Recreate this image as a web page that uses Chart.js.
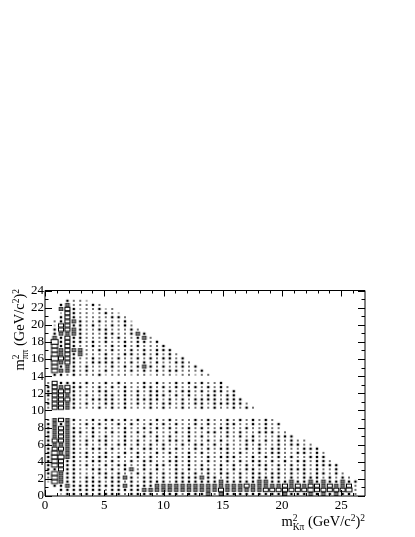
<!DOCTYPE html>
<html>
<head>
<meta charset="utf-8">
<style>
html, body { margin: 0; padding: 0; background: #fff; }
canvas { display: block; }
</style>
<script src="https://cdn.jsdelivr.net/npm/chart.js@4"></script>
</head>
<body>
<canvas id="dalitz" width="415" height="537"></canvas>
<script>
// axis ticks
const xMajor = [0, 5, 10, 15, 20, 25];
const xMinor = [1,2,3,4,6,7,8,9,11,12,13,14,16,17,18,19,21,22,23,24,26];
const yMajor = [0, 2, 4, 6, 8, 10, 12, 14, 16, 18, 20, 22, 24];
const yMinor = [1,3,5,7,9,11,13,15,17,19,21,23];

// histogram binning, 50 x 50
const xBinWidth = 0.54;
const yBinWidth = 0.48;

// box size, one string per y bin starting from the bottom row
// each digit is one x bin, 0 = empty
const boxRows = [
  "0013323233332333323332333424333333333433343434332",
  "0033333332333334444444444445444444555555565555562",
  "0334333333334333344444444444444544444545455454452",
  "1643323332332323333233333334333334433343343433433",
  "264332332333432332323333433232323333323233323232",
  "36433222332322323232332323233232332332323233232",
  "3353322332323423232232323323232332323233323223",
  "3653323223233223233232323223232323323232323333",
  "365332233232232332233232232232323323232332332",
  "36643232332322323222323223233322323232322333",
  "36443232232232322323223232223232232332233232",
  "3554322332322323323232232323322323233222333",
  "344432322323323232322323323232232322323322",
  "35543232332232322323323223232223323232322",
  "345432232322322323232232322232323222333",
  "34543323223232323222323223323232233322",
  "3454322323223223232322323223322322322",
  "3434223232232322323232232322332232323",
  "245432232332323223232223232232323232",
  "",
  "",
  "255432223232322232322322323223232",
  "35543232233232323233232332333332",
  "2555322333323233332323233332333",
  "355432322332323233323232233233",
  "355532223322323233232332323323",
  "35453322323232233232322323232",
  "2533323223232223232232323223",
  "",
  "03323222312221221222122122",
  "0644323223222323232332223",
  "063432322232323432322323",
  "06453223333223232322332",
  "0755322323232232323323",
  "064534222322332323232",
  "06454422323223232333",
  "0635322322323232223",
  "073533232322323323",
  "04353322232322342",
  "0344432223322343",
  "035543223322232",
  "01553323223232",
  "02354322322231",
  "0035322222332",
  "001532212321",
  "00453122312",
  "003422232",
  "0003221"
];

// small boxes come out nearly square in the picture, big ones take the cell shape
const boxWidths = [0, 1.1, 1.5, 2.4, 3.8, 5, 6, 7];
const boxHeights = [0, 1.1, 1.5, 2.3, 3.2, 3.4, 3.8, 4.6];

const xTitle = [["m", 14.5, 0], ["2", 9.5, -5.5, true], ["Kπ", 9.5, 3.5], [" (GeV/c", 14.5, 0], ["2", 9.5, -5.5], [")", 14.5, 0], ["2", 9.5, -5.5]];
const yTitle = [["m", 14.5, 0], ["2", 9.5, -5.5, true], ["ππ", 9.5, 3.5], [" (GeV/c", 14.5, 0], ["2", 9.5, -5.5], [")", 14.5, 0], ["2", 9.5, -5.5]];

const serif = '"Liberation Serif", serif';

const boxes = [];
boxRows.forEach((row, i) => {
  row.split('').forEach((d, j) => {
    if (d !== '0') boxes.push({ x: (j + 0.5) * xBinWidth, y: (i + 0.5) * yBinWidth, level: +d });
  });
});

// one small canvas per box size, chart.js draws them as the point style
const boxImages = boxWidths.map((w, level) => {
  const cv = document.createElement('canvas');
  cv.width = 10;
  cv.height = 8;
  const g = cv.getContext('2d');
  const h = boxHeights[level];
  const x0 = 5 - w / 2, y0 = 4 - h / 2;
  if (level >= 5) {
    g.fillStyle = '#fff';
    g.fillRect(x0, y0, w, h);
    g.strokeStyle = '#000';
    g.lineWidth = 1;
    g.strokeRect(x0, y0, w, h);
  } else if (level === 4) {
    g.fillStyle = '#777';
    g.fillRect(x0, y0, w, h);
    g.strokeStyle = '#222';
    g.lineWidth = 0.8;
    g.strokeRect(x0, y0, w, h);
  } else if (level > 0) {
    g.fillStyle = '#000';
    g.fillRect(x0, y0, w, h);
  }
  return cv;
});

// writes a title piece by piece, the last piece ends at the origin
function drawTitle(ctx, parts) {
  let total = 0;
  const widths = parts.map(p => {
    ctx.font = p[1] + 'px ' + serif;
    return ctx.measureText(p[0]).width;
  });
  widths.forEach((w, k) => { if (!parts[k][3]) total += w; });
  let pos = -total;
  ctx.textAlign = 'left';
  ctx.textBaseline = 'alphabetic';
  ctx.fillStyle = '#000';
  parts.forEach((p, k) => {
    ctx.font = p[1] + 'px ' + serif;
    ctx.fillText(p[0], pos, p[2]);
    if (!p[3]) pos += widths[k];
  });
}

// root style frame, ticks point inwards on all four sides
const frame = {
  id: 'frame',
  afterDraw(chart) {
    const { ctx, chartArea: a, scales } = chart;
    ctx.save();
    ctx.strokeStyle = '#000';
    ctx.lineWidth = 1;
    ctx.beginPath();
    const tx = (vals, len) => vals.forEach(v => {
      const p = Math.round(scales.x.getPixelForValue(v)) + 0.5;
      ctx.moveTo(p, a.bottom); ctx.lineTo(p, a.bottom - len);
      ctx.moveTo(p, a.top); ctx.lineTo(p, a.top + len);
    });
    const ty = (vals, len) => vals.forEach(v => {
      const p = Math.round(scales.y.getPixelForValue(v)) + 0.5;
      ctx.moveTo(a.left, p); ctx.lineTo(a.left + len, p);
      ctx.moveTo(a.right, p); ctx.lineTo(a.right - len, p);
    });
    tx(xMajor, 6); tx(xMinor, 3);
    ty(yMajor, 7); ty(yMinor, 3.5);
    ctx.rect(a.left, a.top, a.right - a.left, a.bottom - a.top);
    ctx.stroke();

    ctx.save();
    ctx.translate(365, 526);
    drawTitle(ctx, xTitle);
    ctx.restore();

    ctx.save();
    ctx.translate(24, 289);
    ctx.rotate(-Math.PI / 2);
    drawTitle(ctx, yTitle);
    ctx.restore();
    ctx.restore();
  }
};

new Chart(document.getElementById('dalitz').getContext('2d'), {
  type: 'scatter',
  data: {
    datasets: [{
      data: boxes,
      pointStyle: c => boxImages[c.raw.level],
      pointRadius: 3,
      pointHoverRadius: 3
    }]
  },
  options: {
    responsive: false,
    animation: false,
    events: [],
    layout: { padding: { top: 290.5, right: 50, left: 0, bottom: 0 } },
    plugins: { legend: { display: false }, tooltip: { enabled: false } },
    scales: {
      x: {
        type: 'linear',
        min: 0,
        max: 27,
        afterBuildTicks: s => { s.ticks = xMajor.map(v => ({ value: v })); },
        afterFit: s => { s.height = 41; },
        grid: { display: false, drawTicks: false },
        border: { display: false },
        ticks: { color: '#000', font: { family: serif, size: 13 }, padding: 2, maxRotation: 0, autoSkip: false }
      },
      y: {
        type: 'linear',
        min: 0,
        max: 24,
        afterBuildTicks: s => { s.ticks = yMajor.map(v => ({ value: v })); },
        afterFit: s => { s.width = 45; },
        grid: { display: false, drawTicks: false },
        border: { display: false },
        ticks: { color: '#000', font: { family: serif, size: 13 }, padding: 1, autoSkip: false }
      }
    }
  },
  plugins: [frame]
});
</script>
</body>
</html>
